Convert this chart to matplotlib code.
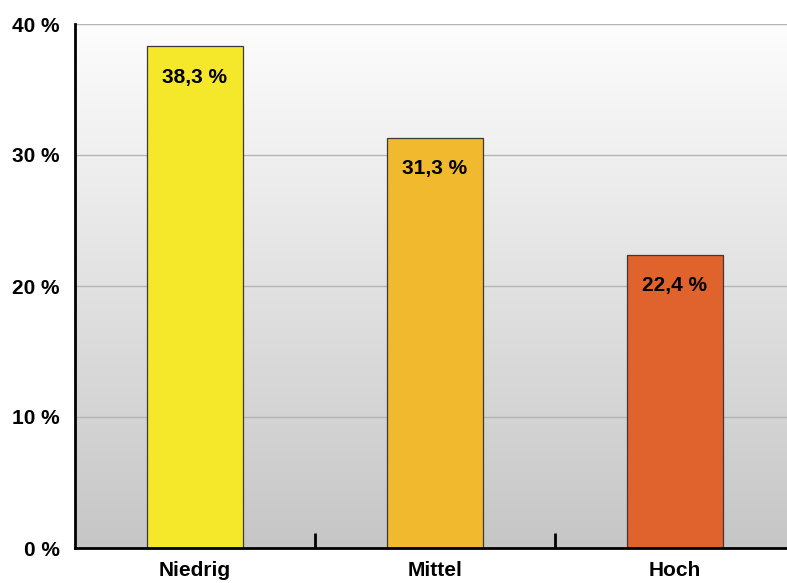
import numpy as np
import matplotlib.pyplot as plt
from matplotlib.colors import LinearSegmentedColormap

plt.rcParams["font.family"] = ["Liberation Sans", "DejaVu Sans"]

CATEGORIES = ["Niedrig", "Mittel", "Hoch"]
VALUES = [38.3, 31.3, 22.4]
LABELS = ["38,3 %", "31,3 %", "22,4 %"]
COLORS = ["#f5e82a", "#f0b92e", "#e0622c"]
YTICKS = [0, 10, 20, 30, 40]

fig = plt.figure(figsize=(7.87, 5.83), dpi=100)
ax = fig.add_axes([75 / 787, 35 / 583, 720 / 787, 524 / 583])

# background gradient inside the plot area
grad = LinearSegmentedColormap.from_list("bg", ["#c6c6c6", "#fdfdfd"])
ax.imshow(np.linspace(0, 1, 256).reshape(-1, 1), cmap=grad, origin="lower",
          extent=[0, 1, 0, 1], transform=ax.transAxes, aspect="auto", zorder=0)

x = np.arange(len(CATEGORIES))
ax.bar(x, VALUES, width=0.4, color=COLORS, edgecolor="#3a3a3a", lw=0.9, zorder=3)
for xi, v, lab in zip(x, VALUES, LABELS):
    ax.text(xi, v - 2.35, lab, ha="center", va="center", fontsize=15,
            fontweight="bold", zorder=4)

ax.set_xlim(-0.5, 2.5)
ax.set_ylim(0, 40)
ax.set_yticks(YTICKS)
ax.set_yticklabels([f"{t} %" for t in YTICKS], fontsize=15, fontweight="bold")
ax.set_xticks(x)
ax.set_xticklabels(CATEGORIES, fontsize=15, fontweight="bold")
ax.set_xticks([0.5, 1.5], minor=True)
ax.tick_params(axis="x", which="major", length=0, pad=9)
ax.tick_params(axis="x", which="minor", direction="in", length=11, width=2)
ax.tick_params(axis="y", length=0, pad=11)
ax.yaxis.grid(True, color="#b4b4b4", lw=1.0, zorder=1)
ax.set_axisbelow(True)

for s in ["top", "right"]:
    ax.spines[s].set_visible(False)
ax.spines["left"].set_linewidth(2)
ax.spines["bottom"].set_linewidth(2)
ax.spines["left"].set_zorder(5)
ax.spines["bottom"].set_zorder(5)

fig.savefig("out.png", dpi=100)
